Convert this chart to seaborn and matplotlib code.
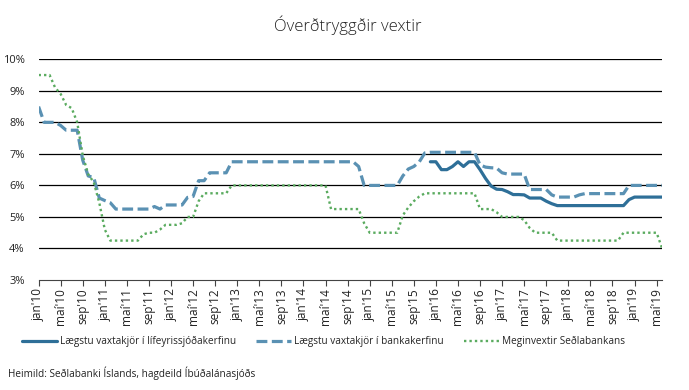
import numpy as np
import pandas as pd
import matplotlib.pyplot as plt
import seaborn as sns

# Monthly rates jan'10 - jún'19
months = ['jan', 'feb', 'mar', 'apr', 'maí', 'jún', 'júl', 'ágú', 'sep', 'okt', 'nóv', 'des']
years = [10, 11, 12, 13, 14, 15, 16, 17, 18, 19]

lifeyrir = [np.nan] * 71 + [
    6.75,
    6.75, 6.5, 6.5, 6.6, 6.75, 6.6, 6.75, 6.75, 6.5, 6.22, 5.98, 5.88,
    5.87, 5.8, 5.71, 5.71, 5.7, 5.6, 5.6, 5.6, 5.5, 5.42, 5.36, 5.36,
    5.36, 5.36, 5.36, 5.36, 5.36, 5.36, 5.36, 5.36, 5.36, 5.36, 5.36, 5.55,
    5.63, 5.63, 5.63, 5.63, 5.63, 5.63,
]

banki = [
    8.5, 8.0, 8.0, 8.0, 7.9, 7.75, 7.75, 7.75, 6.8, 6.3, 6.25, 5.6,
    5.52, 5.45, 5.25, 5.25, 5.25, 5.25, 5.25, 5.25, 5.25, 5.33, 5.25, 5.38,
    5.38, 5.38, 5.38, 5.62, 5.65, 6.15, 6.15, 6.4, 6.4, 6.4, 6.4, 6.75,
    6.75, 6.75, 6.75, 6.75, 6.75, 6.75, 6.75, 6.75, 6.75, 6.75, 6.75, 6.75,
    6.75, 6.75, 6.75, 6.75, 6.75, 6.75, 6.75, 6.75, 6.75, 6.75, 6.6, 6.0,
    6.0, 6.0, 6.0, 6.0, 6.0, 6.0, 6.3, 6.52, 6.6, 6.75, 7.03, 7.05,
    7.05, 7.05, 7.05, 7.05, 7.05, 7.05, 7.05, 7.05, 6.65, 6.58, 6.56, 6.55,
    6.4, 6.36, 6.36, 6.36, 6.36, 5.87, 5.87, 5.87, 5.87, 5.7, 5.63, 5.63,
    5.63, 5.63, 5.7, 5.74, 5.74, 5.74, 5.74, 5.74, 5.74, 5.74, 5.74, 6.0,
    6.0, 6.0, 6.0, 6.0, 6.0, 6.0,
]

meginvextir = [
    9.5, 9.5, 9.5, 9.1, 8.9, 8.55, 8.45, 8.0, 6.95, 6.35, 6.1, 5.45,
    4.6, 4.25, 4.25, 4.25, 4.25, 4.25, 4.25, 4.45, 4.5, 4.5, 4.6, 4.75,
    4.75, 4.75, 4.8, 5.0, 5.0, 5.5, 5.75, 5.75, 5.75, 5.75, 5.75, 6.0,
    6.0, 6.0, 6.0, 6.0, 6.0, 6.0, 6.0, 6.0, 6.0, 6.0, 6.0, 6.0,
    6.0, 6.0, 6.0, 6.0, 6.0, 5.25, 5.25, 5.25, 5.25, 5.25, 5.25, 4.8,
    4.5, 4.5, 4.5, 4.5, 4.5, 4.5, 5.05, 5.3, 5.5, 5.65, 5.75, 5.75,
    5.75, 5.75, 5.75, 5.75, 5.75, 5.75, 5.75, 5.75, 5.25, 5.25, 5.25, 5.15,
    5.0, 5.0, 5.0, 5.0, 4.9, 4.65, 4.5, 4.5, 4.5, 4.5, 4.25, 4.25,
    4.25, 4.25, 4.25, 4.25, 4.25, 4.25, 4.25, 4.25, 4.25, 4.25, 4.5, 4.5,
    4.5, 4.5, 4.5, 4.5, 4.5, 4.0,
]

labels = [f"{m}'{y}" for y in years for m in months][:len(banki)]
x = np.arange(len(banki))

df = pd.DataFrame({"x": x, "lifeyrir": lifeyrir, "banki": banki, "meginvextir": meginvextir})

sns.set_style("white")
plt.rcParams['font.family'] = ['Open Sans', 'DejaVu Sans']

fig = plt.figure(figsize=(6.89, 3.90), dpi=100)
ax = fig.add_axes([0.056, 0.282, 0.905, 0.566])

sns.lineplot(data=df, x="x", y="lifeyrir", ax=ax, color="#2e6f98", linewidth=2.3,
             label="Lægstu vaxtakjör í lífeyrissjóðakerfinu")
sns.lineplot(data=df, x="x", y="banki", ax=ax, color="#5a91b3", linewidth=2.3,
             linestyle=(0, (3.4, 1.4)), label="Lægstu vaxtakjör í bankakerfinu")
sns.lineplot(data=df, x="x", y="meginvextir", ax=ax, color="#5aab5f", linewidth=1.7,
             linestyle=(0, (1, 1.3)), label="Meginvextir Seðlabankans")

ax.set_xlim(0, len(banki) - 1)
ax.set_ylim(3, 10)
ax.set_yticks(range(3, 11))
ax.set_yticklabels([f"{v}%" for v in range(3, 11)], fontsize=8, color="#222222")
for v in range(4, 11):
    ax.axhline(v, color="black", linewidth=0.9, zorder=0)

ticks = x[::4]
ax.set_xticks(ticks)
ax.set_xticklabels([labels[i] for i in ticks], rotation=90, fontsize=8.5, color="#222222")
ax.tick_params(axis="x", direction="out", length=4, width=0.8, color="#444444", pad=2, bottom=True)
ax.tick_params(axis="y", length=0, pad=10)

for s in ["left", "right", "top"]:
    ax.spines[s].set_visible(False)
ax.spines["bottom"].set_color("#444444")
ax.spines["bottom"].set_linewidth(0.8)
ax.set_xlabel("")
ax.set_ylabel("")

ax.legend(loc="center", bbox_to_anchor=(0.457, -0.28), ncol=3, frameon=False, fontsize=7.2,
          handlelength=3.5, handletextpad=0.3, columnspacing=2.0)

fig.text(0.505, 0.935, "Óverðtryggðir vextir", ha="center", va="center", fontsize=12,
         color="#222222", fontweight="light")
fig.text(0.012, 0.044, "Heimild: Seðlabanki Íslands, hagdeild Íbúðalánasjóðs", ha="left",
         va="center", fontsize=7.2, color="#222222")

fig.savefig("out.png", dpi=100)
